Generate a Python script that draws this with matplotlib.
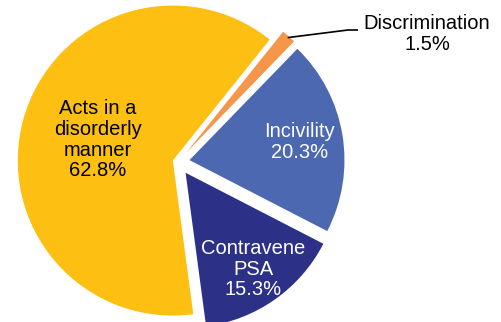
import math
import matplotlib.pyplot as plt

# slice data (percent of incidents)
categories = ["Discrimination", "Incivility", "Contravene\nPSA", "Acts in a\ndisorderly\nmanner"]
shares = [1.5, 20.3, 15.3, 62.8]
colors = ["#F5964A", "#4B68B1", "#2C3187", "#FCBF12"]
explode = [0.08, 0.075, 0.085, 0.035]
text_colors = ["black", "white", "white", "black"]
label_radius = [None, 0.72, 0.76, 0.5]

plt.rcParams['font.family'] = ['Liberation Sans', 'DejaVu Sans']

fig = plt.figure(figsize=(5.02, 3.22), dpi=100)
ax = fig.add_axes([0, 0, 1, 1])

wedges, _ = ax.pie(shares, colors=colors, explode=explode, startangle=51.3,
                   counterclock=False, radius=1.0, center=(0, 0),
                   wedgeprops=dict(linewidth=0))

# pie center sits at pixel (178, 162) from top-left, radius 155 px
R = 155.0
ax.set_xlim(-178 / R, (502 - 178) / R)
ax.set_ylim(-160 / R, (322 - 160) / R)
ax.set_aspect('auto')
ax.axis('off')

for i, w in enumerate(wedges):
    if label_radius[i] is None:
        continue
    mid = math.radians((w.theta1 + w.theta2) / 2)
    cx, cy = w.center
    tx = cx + label_radius[i] * math.cos(mid)
    ty = cy + label_radius[i] * math.sin(mid)
    ax.text(tx, ty, f"{categories[i]}\n{shares[i]}%", ha='center', va='center',
            fontsize=14.5, color=text_colors[i], linespacing=1.12)

# small slice gets an outside label with a leader line
w = wedges[0]
mid = math.radians((w.theta1 + w.theta2) / 2)
cx, cy = w.center
ex, ey = cx + 0.99 * math.cos(mid), cy + 0.99 * math.sin(mid)
kx, ky = (348 - 178) / R, (160 - 28) / R
hx = (358 - 178) / R
ax.plot([ex, kx, hx], [ey, ky, ky], color='black', linewidth=1.2, solid_capstyle='butt')
ax.text((427 - 178) / R, (160 - 32) / R, f"{categories[0]}\n{shares[0]}%",
        ha='center', va='center', fontsize=14.5, color='black', linespacing=1.12)

fig.savefig("out.png", dpi=100)
